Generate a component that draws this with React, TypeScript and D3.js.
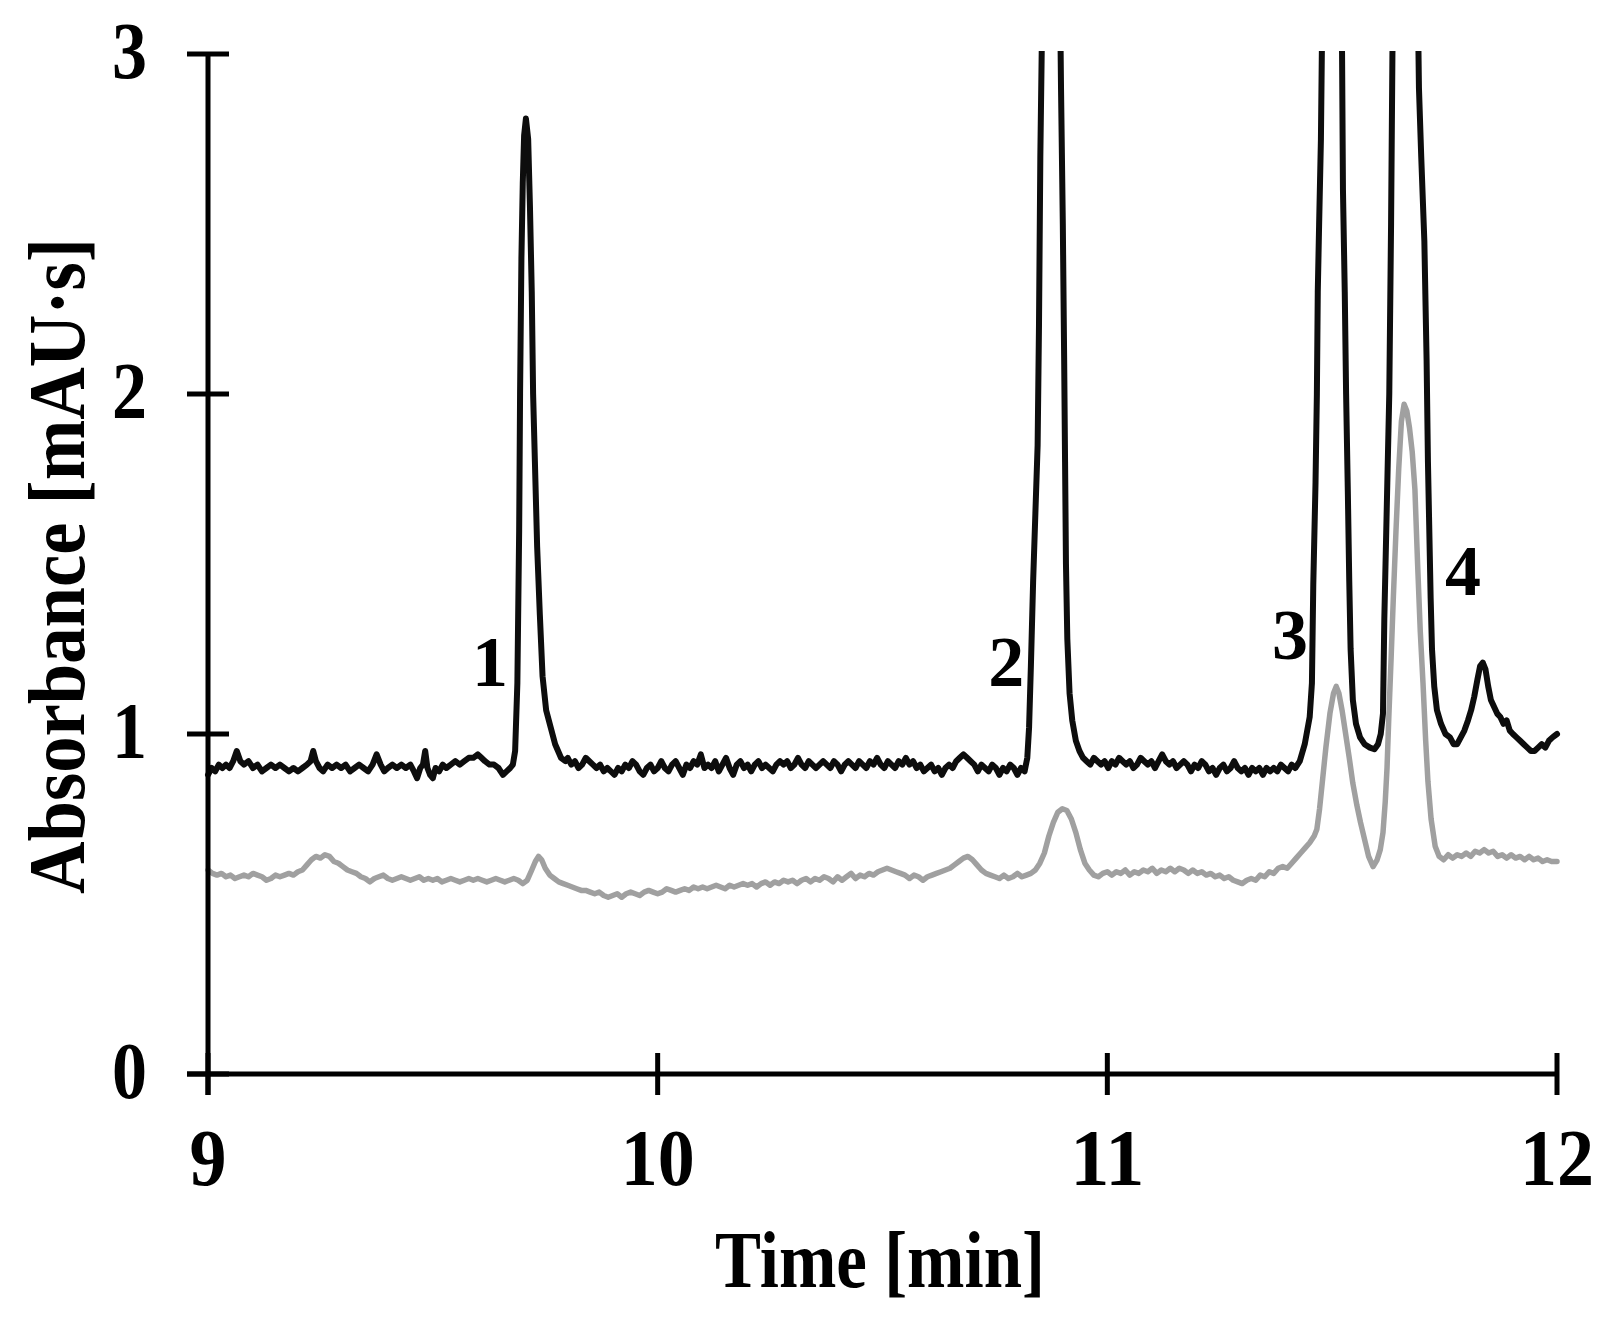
import React from "react";
import * as d3 from "d3";

// ---------- data ----------
const xTicks = [9, 10, 11, 12];
const yTicks = [0, 1, 2, 3];
const xTitle = "Time [min]";
const yTitle = "Absorbance [mAU·s]";

const peakLabels: { label: string; t: number; v: number }[] = [
  { label: "1", t: 9.627, v: 1.14 },
  { label: "2", t: 10.775, v: 1.14 },
  { label: "3", t: 11.406, v: 1.22 },
  { label: "4", t: 11.791, v: 1.41 },
];

// black trace (sample) [time, absorbance]
const blackTrace: [number, number][] = [
  [9.000,0.88],[9.008,0.90],[9.016,0.89],[9.024,0.91],[9.032,0.90],[9.040,0.91],[9.048,0.90],[9.056,0.92],[9.064,0.95],[9.072,0.92],
  [9.080,0.91],[9.090,0.92],[9.100,0.90],[9.110,0.91],[9.120,0.89],[9.130,0.90],[9.140,0.91],[9.150,0.90],[9.160,0.91],[9.170,0.90],
  [9.180,0.89],[9.190,0.90],[9.200,0.89],[9.210,0.90],[9.220,0.91],[9.228,0.92],[9.234,0.95],[9.240,0.92],[9.248,0.90],[9.256,0.89],
  [9.266,0.91],[9.276,0.90],[9.286,0.91],[9.296,0.90],[9.306,0.91],[9.316,0.89],[9.326,0.90],[9.336,0.91],[9.346,0.90],[9.356,0.89],
  [9.366,0.91],[9.375,0.94],[9.384,0.91],[9.392,0.89],[9.400,0.90],[9.410,0.91],[9.420,0.90],[9.430,0.91],[9.440,0.90],[9.450,0.91],
  [9.458,0.89],[9.465,0.87],[9.472,0.90],[9.478,0.91],[9.483,0.95],[9.488,0.90],[9.494,0.88],[9.500,0.87],[9.506,0.90],[9.514,0.89],
  [9.522,0.91],[9.530,0.90],[9.540,0.91],[9.550,0.92],[9.560,0.91],[9.570,0.92],[9.580,0.93],[9.590,0.93],[9.600,0.94],[9.608,0.93],
  [9.616,0.92],[9.626,0.91],[9.636,0.91],[9.646,0.90],[9.656,0.88],[9.664,0.89],[9.672,0.90],[9.678,0.91],[9.683,0.95],
  [9.688,1.15],[9.692,1.60],[9.694,2.00],[9.697,2.40],[9.700,2.62],[9.703,2.76],[9.707,2.81],[9.712,2.75],[9.716,2.55],[9.720,2.30],
  [9.723,2.00],[9.727,1.80],[9.732,1.55],[9.738,1.35],[9.744,1.17],[9.752,1.07],[9.762,1.02],[9.772,0.97],[9.785,0.93],[9.795,0.92],
  [9.800,0.93],[9.808,0.91],[9.816,0.92],[9.824,0.90],[9.832,0.91],[9.840,0.93],[9.848,0.92],[9.856,0.91],[9.864,0.90],[9.872,0.91],
  [9.880,0.89],[9.888,0.90],[9.896,0.89],[9.904,0.88],[9.912,0.90],[9.920,0.89],[9.928,0.91],[9.936,0.90],[9.944,0.92],[9.952,0.91],
  [9.960,0.89],[9.968,0.88],[9.976,0.90],[9.984,0.91],[9.992,0.89],[10.000,0.90],[10.008,0.92],[10.016,0.90],[10.024,0.89],[10.032,0.91],
  [10.040,0.92],[10.048,0.90],[10.056,0.88],[10.064,0.91],[10.072,0.90],[10.080,0.92],[10.088,0.91],[10.096,0.94],[10.104,0.90],[10.112,0.91],
  [10.120,0.90],[10.128,0.92],[10.136,0.89],[10.144,0.91],[10.152,0.93],[10.160,0.90],[10.168,0.88],[10.176,0.91],[10.184,0.92],[10.192,0.90],
  [10.200,0.91],[10.208,0.89],[10.216,0.91],[10.224,0.92],[10.232,0.90],[10.240,0.91],[10.248,0.90],[10.256,0.89],[10.264,0.91],[10.272,0.92],
  [10.280,0.91],[10.288,0.92],[10.296,0.90],[10.304,0.91],[10.312,0.93],[10.320,0.91],[10.328,0.90],[10.336,0.92],[10.344,0.91],[10.352,0.90],
  [10.360,0.91],[10.368,0.92],[10.376,0.91],[10.384,0.90],[10.392,0.92],[10.400,0.91],[10.408,0.89],[10.416,0.91],[10.424,0.92],[10.432,0.91],
  [10.440,0.90],[10.448,0.92],[10.456,0.91],[10.464,0.90],[10.472,0.92],[10.480,0.91],[10.488,0.93],[10.496,0.91],[10.504,0.90],[10.512,0.92],
  [10.520,0.91],[10.528,0.90],[10.536,0.92],[10.544,0.91],[10.552,0.93],[10.560,0.91],[10.568,0.92],[10.576,0.90],[10.584,0.91],[10.592,0.89],
  [10.600,0.90],[10.608,0.91],[10.616,0.89],[10.624,0.90],[10.632,0.88],[10.640,0.90],[10.648,0.91],[10.656,0.90],[10.664,0.92],[10.672,0.93],
  [10.680,0.94],[10.688,0.93],[10.696,0.92],[10.704,0.91],[10.712,0.89],[10.720,0.91],[10.728,0.90],[10.736,0.89],[10.744,0.91],[10.752,0.90],
  [10.760,0.88],[10.768,0.90],[10.776,0.89],[10.784,0.91],[10.792,0.90],[10.800,0.88],[10.808,0.90],[10.816,0.89],
  [10.822,0.93],[10.826,1.02],[10.830,1.20],[10.835,1.45],[10.840,1.65],[10.845,1.85],[10.848,2.20],[10.851,2.70],[10.855,3.10],[10.860,3.60],
  [10.870,4.20],[10.878,4.35],[10.886,4.10],[10.893,3.40],[10.897,2.90],[10.901,2.50],[10.904,2.10],[10.906,1.80],[10.908,1.50],[10.911,1.28],
  [10.916,1.12],[10.922,1.04],[10.930,0.98],[10.938,0.95],[10.946,0.93],
  [10.954,0.92],[10.962,0.91],[10.970,0.93],[10.978,0.92],[10.986,0.91],[10.994,0.92],[11.002,0.90],[11.010,0.92],[11.018,0.91],[11.026,0.93],
  [11.034,0.92],[11.042,0.91],[11.050,0.92],[11.058,0.90],[11.066,0.91],[11.074,0.93],[11.082,0.92],[11.090,0.91],[11.098,0.92],[11.106,0.90],
  [11.114,0.92],[11.122,0.94],[11.130,0.92],[11.138,0.91],[11.146,0.92],[11.154,0.90],[11.162,0.91],[11.170,0.92],[11.178,0.91],[11.186,0.89],
  [11.194,0.91],[11.202,0.90],[11.210,0.92],[11.218,0.91],[11.226,0.89],[11.234,0.90],[11.242,0.88],[11.250,0.90],[11.258,0.91],[11.266,0.89],
  [11.274,0.90],[11.282,0.92],[11.290,0.90],[11.298,0.89],[11.306,0.90],[11.314,0.88],[11.322,0.90],[11.330,0.89],[11.338,0.90],[11.346,0.88],
  [11.354,0.90],[11.362,0.89],[11.370,0.90],[11.378,0.89],[11.386,0.91],[11.394,0.90],[11.402,0.89],[11.410,0.91],[11.418,0.90],
  [11.428,0.92],[11.439,0.97],[11.450,1.05],[11.455,1.15],[11.458,1.44],[11.463,1.74],[11.466,2.00],[11.468,2.30],[11.471,2.50],[11.475,2.75],
  [11.477,3.00],[11.485,3.70],[11.500,4.20],[11.514,3.70],[11.522,3.00],[11.524,2.60],[11.528,2.30],[11.531,2.00],[11.535,1.70],[11.538,1.45],
  [11.541,1.25],[11.546,1.10],[11.553,1.03],[11.562,0.99],[11.572,0.97],[11.584,0.96],[11.594,0.955],[11.602,0.97],[11.608,1.00],
  [11.613,1.06],[11.616,1.34],[11.621,1.64],[11.627,2.00],[11.631,2.50],[11.634,3.00],[11.645,3.80],[11.662,4.30],[11.680,3.80],[11.690,3.20],
  [11.693,2.90],[11.698,2.70],[11.705,2.45],[11.710,2.10],[11.713,1.80],[11.716,1.60],[11.719,1.40],[11.722,1.25],[11.727,1.14],[11.733,1.07],
  [11.742,1.03],[11.752,1.00],[11.762,0.99],[11.770,0.97],[11.778,0.97],[11.786,0.99],[11.794,1.01],[11.802,1.04],[11.809,1.07],[11.816,1.11],
  [11.823,1.16],[11.829,1.20],[11.835,1.21],[11.841,1.19],[11.847,1.14],[11.853,1.10],[11.860,1.08],[11.867,1.06],[11.874,1.05],[11.881,1.03],
  [11.888,1.04],[11.895,1.01],[11.902,1.00],[11.910,0.99],[11.918,0.98],[11.926,0.97],[11.934,0.96],[11.942,0.95],[11.950,0.95],[11.958,0.96],
  [11.966,0.97],[11.974,0.96],[11.982,0.98],[11.990,0.99],[12.000,1.00],
];

// grey trace (blank / reference) [time, absorbance]
const greyTrace: [number, number][] = [
  [9.000,0.60],[9.010,0.59],[9.020,0.585],[9.030,0.59],[9.040,0.58],[9.050,0.585],[9.060,0.575],[9.070,0.58],[9.080,0.585],[9.090,0.58],
  [9.100,0.59],[9.110,0.585],[9.120,0.58],[9.130,0.57],[9.140,0.575],[9.150,0.585],[9.160,0.58],[9.170,0.585],[9.180,0.59],[9.190,0.585],
  [9.200,0.595],[9.210,0.60],[9.220,0.615],[9.230,0.63],[9.240,0.64],[9.250,0.635],[9.260,0.645],[9.270,0.64],[9.280,0.625],[9.290,0.62],
  [9.300,0.61],[9.310,0.60],[9.320,0.595],[9.330,0.59],[9.340,0.58],[9.350,0.575],[9.360,0.565],[9.370,0.575],[9.380,0.58],[9.390,0.585],
  [9.400,0.575],[9.410,0.57],[9.420,0.575],[9.430,0.58],[9.440,0.575],[9.450,0.57],[9.460,0.575],[9.470,0.58],[9.480,0.57],[9.490,0.575],
  [9.500,0.57],[9.510,0.575],[9.520,0.565],[9.530,0.57],[9.540,0.575],[9.550,0.57],[9.560,0.565],[9.570,0.57],[9.580,0.575],[9.590,0.57],
  [9.600,0.575],[9.610,0.57],[9.620,0.565],[9.630,0.57],[9.640,0.575],[9.650,0.57],[9.660,0.565],[9.670,0.57],[9.680,0.575],[9.690,0.57],
  [9.700,0.56],[9.710,0.57],[9.720,0.60],[9.728,0.625],[9.735,0.64],[9.742,0.63],[9.750,0.605],[9.760,0.585],[9.770,0.575],[9.780,0.565],
  [9.790,0.56],[9.800,0.555],[9.810,0.55],[9.820,0.545],[9.830,0.54],[9.840,0.54],[9.850,0.535],[9.860,0.53],[9.870,0.535],[9.880,0.525],
  [9.890,0.52],[9.900,0.525],[9.910,0.53],[9.920,0.52],[9.930,0.53],[9.940,0.535],[9.950,0.53],[9.960,0.525],[9.970,0.535],[9.980,0.54],
  [9.990,0.535],[10.000,0.53],[10.010,0.535],[10.020,0.545],[10.030,0.54],[10.040,0.535],[10.050,0.54],[10.060,0.545],[10.070,0.54],[10.080,0.55],
  [10.090,0.545],[10.100,0.55],[10.110,0.545],[10.120,0.55],[10.130,0.555],[10.140,0.55],[10.150,0.545],[10.160,0.555],[10.170,0.55],[10.180,0.555],
  [10.190,0.56],[10.200,0.555],[10.210,0.56],[10.220,0.55],[10.230,0.56],[10.240,0.565],[10.250,0.555],[10.260,0.565],[10.270,0.56],[10.280,0.57],
  [10.290,0.565],[10.300,0.57],[10.310,0.56],[10.320,0.57],[10.330,0.575],[10.340,0.565],[10.350,0.575],[10.360,0.57],[10.370,0.58],[10.380,0.575],
  [10.390,0.565],[10.400,0.58],[10.410,0.57],[10.420,0.58],[10.430,0.59],[10.440,0.575],[10.450,0.585],[10.460,0.58],[10.470,0.59],[10.480,0.585],
  [10.490,0.595],[10.500,0.60],[10.510,0.605],[10.520,0.60],[10.530,0.595],[10.540,0.59],[10.550,0.585],[10.560,0.575],[10.570,0.585],[10.580,0.58],
  [10.590,0.57],[10.600,0.58],[10.610,0.585],[10.620,0.59],[10.630,0.595],[10.640,0.60],[10.650,0.605],[10.660,0.615],[10.670,0.625],[10.680,0.635],
  [10.690,0.64],[10.700,0.63],[10.710,0.615],[10.720,0.60],[10.730,0.59],[10.740,0.585],[10.750,0.58],[10.760,0.575],[10.770,0.585],[10.780,0.575],
  [10.790,0.58],[10.800,0.59],[10.810,0.58],[10.820,0.585],[10.830,0.59],[10.840,0.60],[10.850,0.62],[10.860,0.65],[10.870,0.70],[10.880,0.74],
  [10.890,0.77],[10.900,0.78],[10.910,0.775],[10.920,0.75],[10.930,0.71],[10.940,0.66],[10.950,0.62],[10.960,0.60],[10.970,0.585],[10.980,0.58],
  [10.990,0.59],[11.000,0.595],[11.010,0.585],[11.020,0.595],[11.030,0.59],[11.040,0.6],[11.050,0.585],[11.060,0.595],[11.070,0.59],[11.080,0.60],
  [11.090,0.595],[11.100,0.605],[11.110,0.59],[11.120,0.60],[11.130,0.595],[11.140,0.605],[11.150,0.595],[11.160,0.605],[11.170,0.60],[11.180,0.59],
  [11.190,0.60],[11.200,0.59],[11.210,0.595],[11.220,0.585],[11.230,0.59],[11.240,0.58],[11.250,0.585],[11.260,0.575],[11.270,0.58],[11.280,0.57],
  [11.290,0.565],[11.300,0.56],[11.310,0.57],[11.320,0.575],[11.330,0.57],[11.340,0.585],[11.350,0.58],[11.360,0.595],[11.370,0.59],[11.380,0.605],
  [11.390,0.61],[11.400,0.605],[11.410,0.62],[11.420,0.635],[11.430,0.65],[11.440,0.665],[11.450,0.68],[11.460,0.70],[11.466,0.72],[11.472,0.78],
  [11.479,0.87],[11.486,0.96],[11.495,1.06],[11.503,1.12],[11.509,1.14],[11.515,1.12],[11.522,1.07],[11.530,1.00],[11.538,0.93],[11.546,0.855],
  [11.555,0.79],[11.563,0.74],[11.572,0.69],[11.581,0.64],[11.591,0.61],[11.600,0.63],[11.607,0.66],[11.613,0.71],[11.618,0.80],[11.622,0.90],
  [11.626,1.05],[11.631,1.22],[11.636,1.40],[11.642,1.60],[11.648,1.78],[11.654,1.92],[11.660,1.97],[11.666,1.95],[11.672,1.90],[11.678,1.83],
  [11.684,1.72],[11.690,1.50],[11.696,1.30],[11.702,1.15],[11.708,0.98],[11.713,0.86],[11.720,0.75],[11.729,0.67],[11.738,0.64],[11.748,0.63],
  [11.758,0.645],[11.768,0.635],[11.778,0.645],[11.788,0.64],[11.798,0.65],[11.808,0.64],[11.818,0.655],[11.828,0.65],[11.838,0.66],[11.848,0.65],
  [11.858,0.655],[11.868,0.64],[11.878,0.645],[11.888,0.635],[11.898,0.645],[11.908,0.635],[11.918,0.64],[11.928,0.63],[11.938,0.64],[11.948,0.63],
  [11.958,0.635],[11.968,0.625],[11.978,0.63],[11.988,0.625],[12.000,0.625],
];

// ---------- layout ----------
const W = 1615;
const H = 1324;
const M = { left: 208, right: 1557, top: 54, bottom: 1074 };
const FONT = "'Liberation Serif', 'Times New Roman', serif";

export default function App() {
  const x = d3.scaleLinear().domain([9, 12]).range([M.left, M.right]);
  const y = d3.scaleLinear().domain([0, 3]).range([M.bottom, M.top]);
  const line = d3
    .line<[number, number]>()
    .x((d) => x(d[0]))
    .y((d) => y(d[1]))
    .curve(d3.curveLinear);

  const tick = 21;

  return (
    <svg
      width={W}
      height={H}
      viewBox={`0 0 ${W} ${H}`}
      style={{ position: "absolute", left: 0, top: 0, background: "#fff" }}
    >
      <defs>
        <clipPath id="plotClip">
          <rect x={M.left - 10} y={M.top - 3} width={M.right - M.left + 20} height={M.bottom - M.top + 3} />
        </clipPath>
      </defs>
      <rect x={0} y={0} width={W} height={H} fill="#fff" />

      {/* traces */}
      <g clipPath="url(#plotClip)" fill="none" strokeLinejoin="round" strokeLinecap="round">
        <path d={line(blackTrace) || ""} stroke="#0d0d0d" strokeWidth={6} />
        <path d={line(greyTrace) || ""} stroke="#a0a0a0" strokeWidth={5.5} />
      </g>

      {/* axes */}
      <g stroke="#000" strokeWidth={5}>
        <line x1={x(9)} x2={x(9)} y1={y(3)} y2={y(0) + tick} />
        <line x1={x(9) - tick} x2={x(12)} y1={y(0)} y2={y(0)} />
        {yTicks.map((v) => (
          <line key={"yt" + v} x1={x(9) - tick} x2={x(9) + tick} y1={y(v)} y2={y(v)} />
        ))}
        {xTicks.map((v) => (
          <line key={"xt" + v} x1={x(v)} x2={x(v)} y1={y(0) - tick} y2={y(0) + tick} />
        ))}
      </g>

      {/* tick labels */}
      <g fontFamily={FONT} fontWeight="bold" fontSize={80} fill="#000">
        {xTicks.map((v) => {
          const s = String(v);
          return (
            <text
              key={"xl" + v}
              x={x(v)}
              y={1185}
              textAnchor="middle"
              textLength={s.length * 37}
              lengthAdjust="spacingAndGlyphs"
            >
              {s}
            </text>
          );
        })}
        {yTicks.map((v) => {
          const s = String(v);
          return (
            <text
              key={"yl" + v}
              x={147}
              y={y(v) + 24}
              textAnchor="end"
              textLength={s.length * 35}
              lengthAdjust="spacingAndGlyphs"
            >
              {s}
            </text>
          );
        })}
      </g>

      {/* axis titles */}
      <text
        x={880}
        y={1287}
        textAnchor="middle"
        fontFamily={FONT}
        fontWeight="bold"
        fontSize={80}
        textLength={330}
        lengthAdjust="spacingAndGlyphs"
      >
        {xTitle}
      </text>
      <text
        transform={`translate(84, 566) rotate(-90)`}
        textAnchor="middle"
        fontFamily={FONT}
        fontWeight="bold"
        fontSize={80}
        textLength={656}
        lengthAdjust="spacingAndGlyphs"
      >
        {yTitle}
      </text>

      {/* peak labels */}
      <g fontFamily={FONT} fontWeight="bold" fontSize={72} fill="#000">
        {peakLabels.map((p) => (
          <text key={p.label} x={x(p.t)} y={y(p.v)} textAnchor="middle">
            {p.label}
          </text>
        ))}
      </g>
    </svg>
  );
}
